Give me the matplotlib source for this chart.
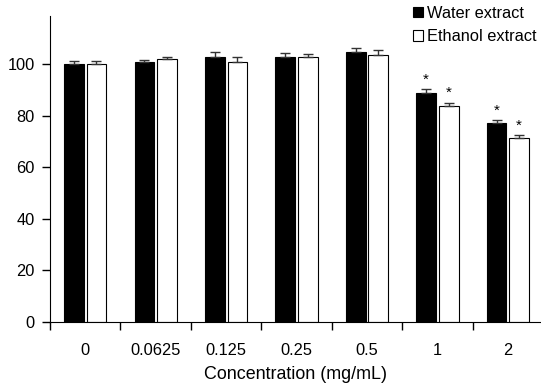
import numpy as np
import matplotlib
matplotlib.use("Agg")
import matplotlib.pyplot as plt
from matplotlib.patches import Patch

plt.rcParams['font.family'] = ['Liberation Sans', 'DejaVu Sans']

concentrations = ["0", "0.0625", "0.125", "0.25", "0.5", "1", "2"]
water = [100, 100.6, 102.8, 102.8, 104.8, 88.9, 77.0]
water_err = [1.3, 1.0, 1.7, 1.3, 1.6, 1.3, 1.3]
ethanol = [100, 101.8, 100.6, 102.8, 103.6, 83.6, 71.4]
ethanol_err = [1.3, 1.0, 2.2, 1.2, 1.7, 1.4, 1.0]
water_sig = [False, False, False, False, False, True, True]
ethanol_sig = [False, False, False, False, False, True, True]

fig = plt.figure(figsize=(5.41, 3.91), dpi=100)
ax = fig.add_axes([0.0924, 0.1765, 0.9076, 0.7825])

x = np.arange(len(concentrations))
w = 0.28
off = 0.16
ax.bar(x - off, water, w, color='black', edgecolor='black', linewidth=0.8, zorder=2)
ax.bar(x + off, ethanol, w, color='white', edgecolor='black', linewidth=0.8, zorder=2)
ax.errorbar(x - off, water, yerr=[np.zeros(len(x)), water_err], fmt='none',
            ecolor='#333333', elinewidth=1, capsize=3.5, capthick=1, zorder=3)
ax.errorbar(x + off, ethanol, yerr=[np.zeros(len(x)), ethanol_err], fmt='none',
            ecolor='#333333', elinewidth=1, capsize=3.5, capthick=1, zorder=3)

for i in range(len(x)):
    if water_sig[i]:
        ax.text(x[i] - off, water[i] + water_err[i] + 1.0, '*', ha='center',
                va='bottom', fontsize=11)
    if ethanol_sig[i]:
        ax.text(x[i] + off, ethanol[i] + ethanol_err[i] + 1.0, '*', ha='center',
                va='bottom', fontsize=11)

ax.set_ylim(0, 118.6)
ax.set_xlim(-0.5, 6.47)
ax.set_yticks([0, 20, 40, 60, 80, 100])
ax.set_xticks(np.arange(-0.5, 6.5, 1.0))
ax.set_xticklabels([])
ax.set_xticks(x, minor=True)
ax.set_xticklabels(concentrations, minor=True)
ax.tick_params(axis='x', which='minor', length=0, pad=15, labelsize=11.8)
ax.tick_params(axis='x', which='major', length=6, direction='out', width=1)
ax.tick_params(axis='y', length=6, direction='out', width=1, labelsize=11.8, pad=5)
ax.spines['top'].set_visible(False)
ax.spines['right'].set_visible(False)
ax.set_xlabel("Concentration (mg/mL)", fontsize=12.9, labelpad=6)

handles = [Patch(facecolor='black', edgecolor='black', linewidth=0.8),
           Patch(facecolor='white', edgecolor='black', linewidth=0.8)]
fig.legend(handles, ["Water extract", "Ethanol extract"], loc='upper left',
           bbox_to_anchor=(413 / 541, 1 - 6 / 391), frameon=False, fontsize=11.8,
           handlelength=0.6, handleheight=0.6, handletextpad=0.25,
           labelspacing=0.5, borderpad=0, borderaxespad=0)

fig.savefig("out.png", dpi=100)
